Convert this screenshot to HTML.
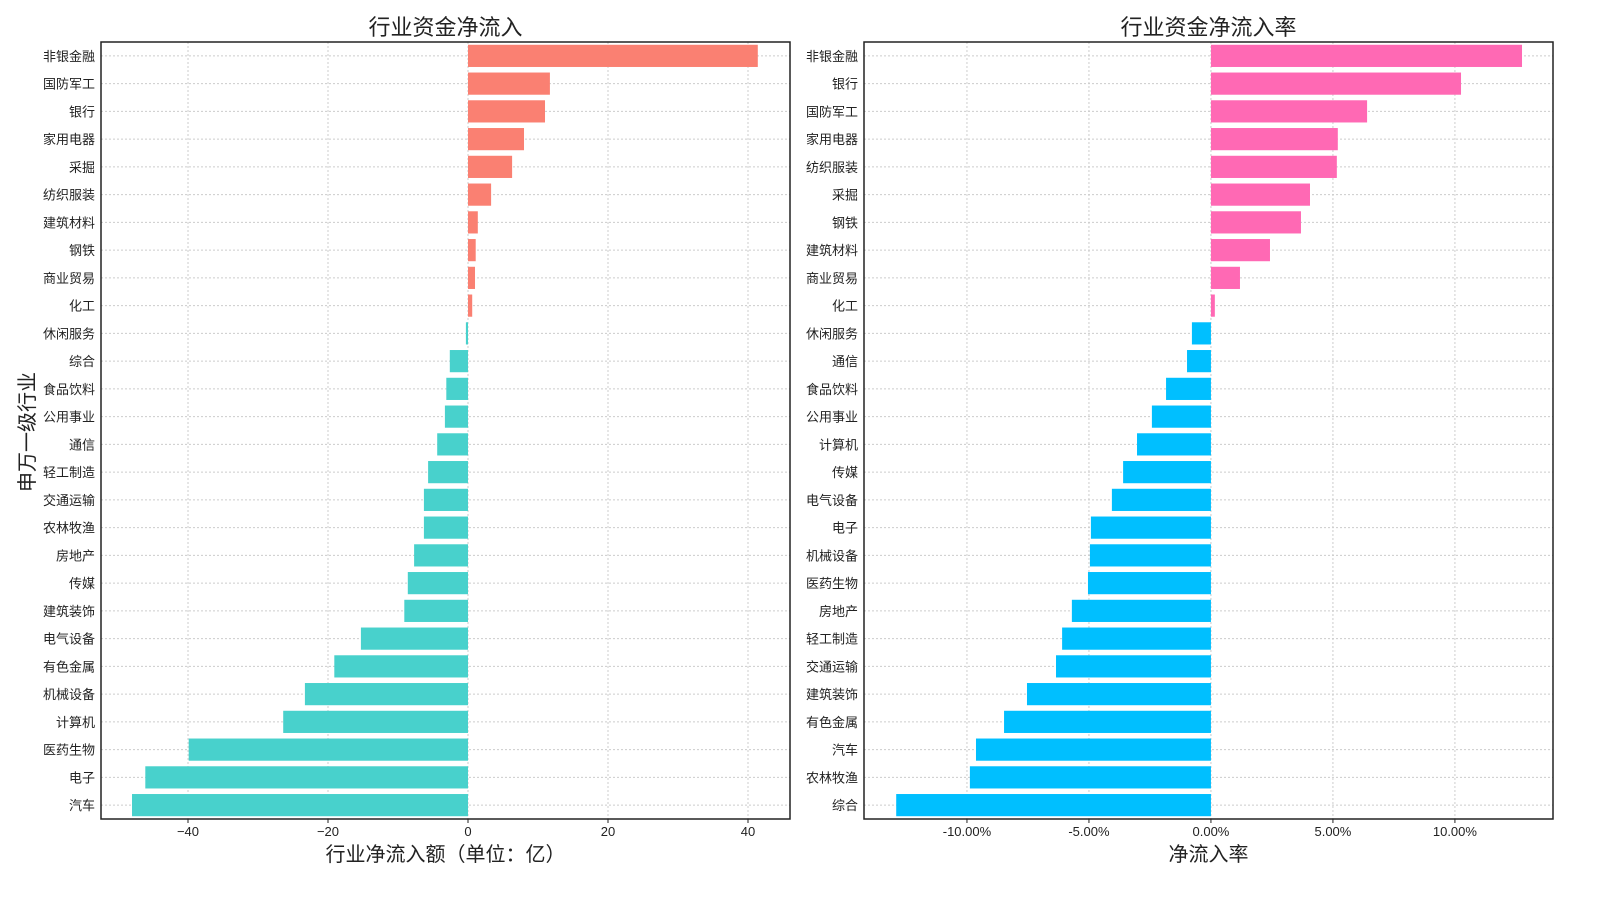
<!DOCTYPE html>
<html><head><meta charset="utf-8"><style>
body{margin:0;background:#fff;}
svg text{font-family:"Liberation Sans","Noto Sans CJK SC",sans-serif;fill:#222;}
</style></head><body>
<svg id="c" width="1600" height="900" xmlns="http://www.w3.org/2000/svg"></svg>
<script>
const leftCats=["非银金融","国防军工","银行","家用电器","采掘","纺织服装","建筑材料","钢铁","商业贸易","化工","休闲服务","综合","食品饮料","公用事业","通信","轻工制造","交通运输","农林牧渔","房地产","传媒","建筑装饰","电气设备","有色金属","机械设备","计算机","医药生物","电子","汽车"];
const leftVals=[41.4,11.7,11.0,8.0,6.3,3.3,1.4,1.1,1.0,0.6,-0.3,-2.6,-3.1,-3.3,-4.4,-5.7,-6.3,-6.3,-7.7,-8.6,-9.1,-15.3,-19.1,-23.3,-26.4,-39.9,-46.1,-48.0];
const leftTicks=[-40,-20,0,20,40];
const rightCats=["非银金融","银行","国防军工","家用电器","纺织服装","采掘","钢铁","建筑材料","商业贸易","化工","休闲服务","通信","食品饮料","公用事业","计算机","传媒","电气设备","电子","机械设备","医药生物","房地产","轻工制造","交通运输","建筑装饰","有色金属","汽车","农林牧渔","综合"];
const rightVals=[12.75,10.25,6.4,5.2,5.16,4.06,3.69,2.42,1.19,0.16,-0.78,-0.98,-1.84,-2.42,-3.03,-3.6,-4.06,-4.92,-4.96,-5.04,-5.7,-6.1,-6.35,-7.54,-8.48,-9.63,-9.88,-12.9];
const rightTicks=[-10,-5,0,5,10];
const svg=document.getElementById('c');
const NS="http://www.w3.org/2000/svg";
function mk(tag,attrs,parent){const e=document.createElementNS(NS,tag);for(const k in attrs)e.setAttribute(k,attrs[k]);(parent||svg).appendChild(e);return e;}
function panel(key,x0,x1,dmin,dmax,cats,vals,ticks,fmt,pos,neg,title,xlabel){
  const top=42,bot=819;
  const xs=v=>x0+(v-dmin)/(dmax-dmin)*(x1-x0);
  const band=(bot-top)/cats.length;
  const g=mk('g',{});
  
  
  ticks.forEach(t=>{
    const l=mk('line',{x1:xs(t),x2:xs(t),y1:top,y2:bot,stroke:'#ccc','stroke-dasharray':'2,2'},g);
    
    
    const tx=mk('text',{x:xs(t),y:bot+17,'text-anchor':'middle','font-size':13},g);
    tx.textContent=fmt(t);
    
    
    mk('line',{x1:xs(t),x2:xs(t),y1:bot,y2:bot+4,stroke:'#222'},g);
  });
  cats.forEach((c,i)=>{
    const cy=top+band*(i+0.5);
    const l=mk('line',{x1:x0,x2:x1,y1:cy,y2:cy,stroke:'#ccc','stroke-dasharray':'2,2'},g);
    
    
  });
  cats.forEach((c,i)=>{
    const cy=top+band*(i+0.5);const v=vals[i];
    const a=xs(Math.min(0,v)),b=xs(Math.max(0,v));
    const r=mk('rect',{x:a,y:cy-band*0.4,width:Math.max(b-a,0.5),height:band*0.8,fill:v>=0?pos:neg},g);
    
    
    const t=mk('text',{x:x0-6,y:cy+5,'text-anchor':'end','font-size':13},g);
    t.textContent=c;
    
    
  });
  const fr=mk('rect',{x:x0,y:top,width:x1-x0,height:bot-top,fill:'none',stroke:'#222','stroke-width':1.5},g);
  
  
  const tt=mk('text',{x:(x0+x1)/2,y:35,'text-anchor':'middle','font-size':22},g);
  tt.textContent=title;
  
  
  const xl=mk('text',{x:(x0+x1)/2,y:861,'text-anchor':'middle','font-size':20},g);
  xl.textContent=xlabel;
  
  
}
panel('left',101,790,-52.43,46.0,leftCats,leftVals,leftTicks,t=>t<0?'\u2212'+(-t):''+t,'#FA8072','#48D1CC','行业资金净流入','行业净流入额（单位：亿）');
panel('right',864,1553,-14.22,14.02,rightCats,rightVals,rightTicks,t=>t.toFixed(2)+'%','#FF69B4','#00BFFF','行业资金净流入率','净流入率');
const yl=mk('text',{x:0,y:0,'text-anchor':'middle','font-size':20,transform:'translate(34,432) rotate(-90)'});
yl.textContent='申万一级行业';


</script>
</body></html>
